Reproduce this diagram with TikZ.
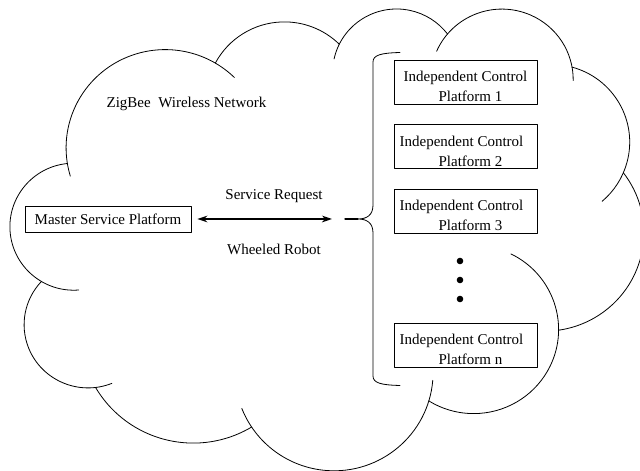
\documentclass[tikz,border=0pt]{standalone}
\usepackage{fontspec}
\setmainfont{Liberation Serif}
\usetikzlibrary{arrows.meta}
\tikzset{
  master/.style={draw, line width=0.6pt, minimum width=124.5pt, minimum height=19.5pt, inner sep=0pt},
  platform/.style={draw, line width=0.6pt, minimum width=107.25pt, minimum height=33pt, align=center, inner sep=0pt},
}
\newcommand{\pftop}{\rule{0pt}{15pt}}
\begin{document}
\begin{tikzpicture}[x=0.75pt, y=0.75pt, font=\fontsize{11.25}{15}\selectfont, line join=round, line cap=round, >={Stealth[length=7.5pt,width=5pt]}]
	\useasboundingbox (0,0) rectangle (640,471);
	% cloud outline, one arc per bump
	\foreach \cx/\cy/\rx/\ry/\a/\b in {
		165.2/323.2/99.1/98.2/196.8/45.7,
		284.4/371.5/78.2/77.6/152.0/45.4,
		396.6/398.5/64.0/63.5/167.7/37.3,
		501.9/391.4/71.3/70.5/156.3/-0.8,
		551.5/328.9/78.2/77.7/74.8/-49.6,
		544.5/238.3/99.4/98.5/37.5/-81.9,
		473.7/141.5/84.9/84.1/64.0/-122.0,
		334.0/98.7/99.1/98.5/-4.7/-158.5,
		193.3/140.5/113.3/112.6/-59.0/-149.6,
		88.1/146.3/64.0/63.2/-68.2/-223.1,
		73.7/244.3/63.8/63.5/-85.5/-264.1}
		\draw[line width=0.6pt] (\cx,\cy) ++({\rx*cos(\a)},{\ry*sin(\a)})
			arc[start angle=\a, end angle=\b, x radius=\rx, y radius=\ry];
	\node (net) at (186.5,367) {ZigBee\ \ Wireless Network};
	\node[master] (msp) at (108,252) {Master Service Platform};
	\node[platform] (pf1) at (465.5,389) {\pftop Independent Control\\\hspace*{7.5pt}Platform 1};
	\node[platform] (pf2) at (465.5,324.5) {\pftop Independent Control\hspace*{6pt}\\\hspace*{7.5pt}Platform 2};
	\node[platform] (pf3) at (465.5,260) {\pftop Independent Control\hspace*{6pt}\\\hspace*{7.5pt}Platform 3};
	\node[platform] (pfn) at (465.5,126) {\pftop Independent Control\hspace*{6pt}\\\hspace*{7.5pt}Platform n};
	\foreach \y in {210,191,172}
		\fill (460,\y) circle (3.3);
	% brace
	\coordinate (cusp) at (358,252);
	\coordinate (stub) at (345,252);
	\draw[line width=0.6pt] (400,418.5) .. controls (381,418) and (373,416) .. (373,409)
		-- (373,266) .. controls (373,256) and (367,252) .. (cusp)
		.. controls (367,252) and (373,248) .. (373,238)
		-- (373,95) .. controls (373,88) and (381,86) .. (400,85.5);
	\draw[line width=1pt] (stub) -- (cusp);
	\draw[<->, line width=1.4pt, shorten <=4.5pt, shorten >=9.75pt] (msp) -- (stub);
	\node (req) at (274,275) {Service Request};
	\node (robot) at (274,222) {Wheeled Robot};
\end{tikzpicture}
\end{document}
